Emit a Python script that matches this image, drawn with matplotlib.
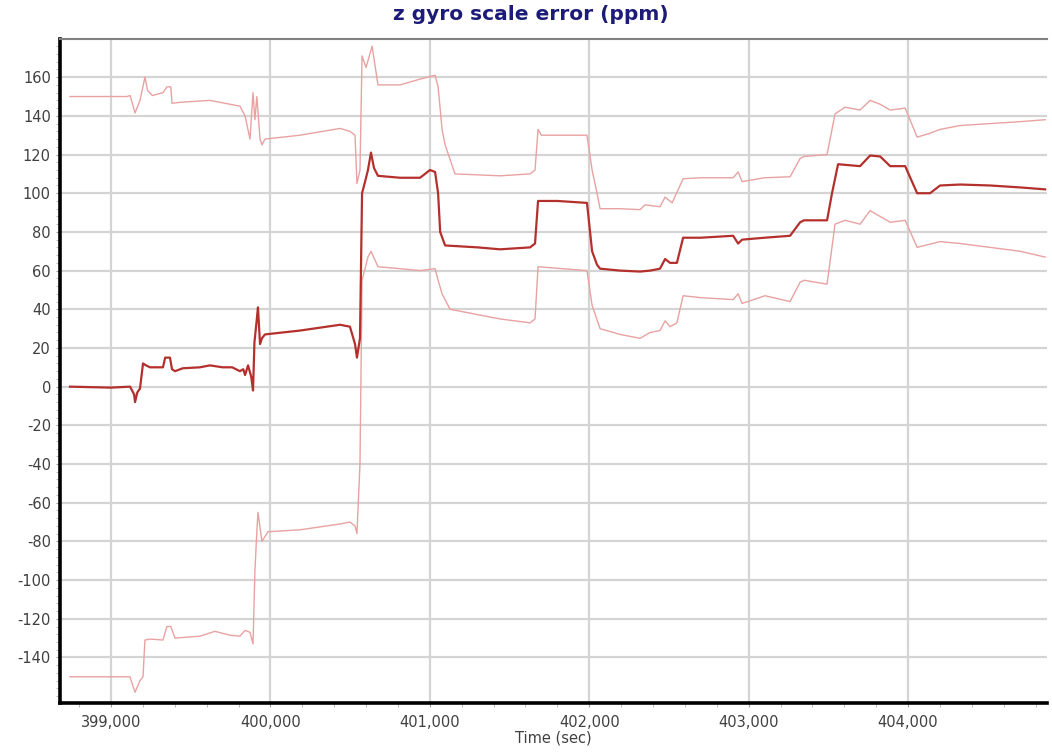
import matplotlib
matplotlib.use("Agg")
import matplotlib.pyplot as plt
from matplotlib.ticker import MultipleLocator, FuncFormatter

# z gyro scale error estimate (ppm) with upper / lower bounds
center_t = [398743, 399000, 399120, 399145, 399151, 399165, 399182, 399201, 399220, 399245,
            399326, 399340, 399370, 399383, 399402, 399450, 399558, 399621, 399700, 399760,
            399809, 399830, 399841, 399860, 399880, 399891, 399900, 399915, 399922, 399935,
            399947, 399966, 400186, 400437, 400499, 400531, 400543, 400562, 400575, 400594,
            400612, 400631, 400650, 400675, 400813, 400939, 401001, 401033, 401052, 401065,
            401096, 401300, 401441, 401629, 401660, 401679, 401800, 401986, 402018, 402049,
            402068, 402193, 402319, 402382, 402444, 402476, 402507, 402550, 402589, 402700,
            402903, 402934, 402959, 403100, 403260, 403323, 403348, 403492, 403523, 403561,
            403699, 403762, 403825, 403888, 403982, 404057, 404138, 404201, 404327, 404515,
            404703, 404860]
center_v = [0, -0.5, 0, -4, -8, -3, -1, 12, 11, 10,
            10, 15, 15, 9, 8, 9.5, 10, 11, 10, 10,
            8, 9, 6, 11, 5, -2, 23, 35, 41, 22,
            25, 27, 29, 32, 31, 22, 15, 25, 100, 106,
            112, 121, 113, 109, 108, 108, 112, 111, 100, 80,
            73, 72, 71, 72, 74, 96, 96, 95, 70, 63,
            61, 60, 59.5, 60, 61, 66, 64, 64, 77, 77,
            78, 74, 76, 77, 78, 85, 86, 86, 100, 115,
            114, 119.5, 119, 114, 114, 100, 100, 104, 104.5, 104,
            103, 102]

upper_t = [398743, 399100, 399120, 399151, 399182, 399213, 399230, 399260, 399326, 399351,
           399375, 399383, 399433, 399621, 399747, 399809, 399841, 399872, 399891, 399903,
           399915, 399935, 399947, 399966, 400186, 400437, 400499, 400531, 400543, 400562,
           400575, 400600, 400638, 400675, 400813, 400939, 401033, 401052, 401077, 401096,
           401158, 401441, 401629, 401660, 401679, 401700, 401986, 402018, 402049, 402068,
           402193, 402319, 402350, 402444, 402476, 402520, 402589, 402700, 402903, 402934,
           402959, 403100, 403260, 403323, 403348, 403492, 403542, 403605, 403699, 403762,
           403825, 403888, 403982, 404057, 404138, 404201, 404327, 404515, 404703, 404860]
upper_v = [150, 150, 150.5, 141.5, 148, 160, 153, 150.5, 152, 155,
           155, 146.5, 147, 148, 146, 145, 140, 128, 152, 138,
           150, 128, 125, 128, 130, 133.5, 132, 130, 105, 112,
           171, 165, 176, 156, 156, 159, 161, 155, 133, 125,
           110, 109, 110, 112, 133, 130, 130, 112, 100, 92,
           92, 91.5, 94, 93, 98, 95, 107.5, 108, 108, 111,
           106, 108, 108.5, 118, 119, 120, 141, 144.5, 143, 148,
           146, 143, 144, 129, 131, 133, 135, 136, 137, 138]

lower_t = [398743, 399119, 399151, 399182, 399201, 399213, 399245, 399326, 399351, 399375,
           399402, 399558, 399652, 399747, 399809, 399841, 399872, 399891, 399903, 399915,
           399922, 399947, 399985, 400186, 400437, 400499, 400531, 400543, 400562, 400575,
           400612, 400631, 400675, 400813, 400939, 401033, 401052, 401077, 401127, 401441,
           401629, 401660, 401679, 401986, 402018, 402068, 402193, 402319, 402382, 402444,
           402476, 402507, 402550, 402589, 402700, 402903, 402934, 402959, 403103, 403260,
           403323, 403348, 403492, 403542, 403605, 403699, 403762, 403825, 403888, 403982,
           404057, 404201, 404327, 404515, 404703, 404860]
lower_v = [-150, -150, -158, -152, -150, -131, -130.5, -131, -124, -124,
           -130, -129, -126.5, -128.5, -129, -126, -127, -133, -95, -75,
           -65, -80, -75, -74, -71, -70, -72, -76, -40, 55,
           67, 70, 62, 61, 60, 61, 55, 48, 40, 35,
           33, 35, 62, 60, 42, 30, 27, 25, 28, 29,
           34, 31, 33, 47, 46, 45, 48, 43, 47, 44,
           54, 55, 53, 84, 86, 84, 91, 88, 85, 86,
           72, 75, 74, 72, 70, 67]


def main():
    plt.rcParams['axes.unicode_minus'] = False
    fig = plt.figure(figsize=(10.52, 7.55), dpi=100)
    ax = fig.add_axes([0.057, 0.069, 0.938, 0.879])

    bound_color = '#e8a2a2'
    ax.plot(upper_t, upper_v, color=bound_color, lw=1.0, zorder=3)
    ax.plot(lower_t, lower_v, color=bound_color, lw=1.0, zorder=3)
    ax.plot(center_t, center_v, color='#b3302c', lw=1.6, zorder=4)

    ax.set_xlim(398680, 404870)
    ax.set_ylim(-163.5, 179.6)

    ax.xaxis.set_major_locator(MultipleLocator(1000))
    ax.xaxis.set_minor_locator(MultipleLocator(200))
    ax.yaxis.set_minor_locator(MultipleLocator(4))
    ax.set_yticks(range(-140, 161, 20))
    ax.xaxis.set_major_formatter(FuncFormatter(lambda v, p: f'{int(v):,}'))

    ax.grid(True, which='major', color='#d4d4d4', lw=1.6, zorder=0)
    ax.set_axisbelow(True)

    ax.tick_params(axis='both', which='major', direction='out', length=3,
                   color='#a0a0a0', labelsize=10.5, labelcolor='#404040')
    ax.tick_params(axis='x', which='major', pad=6)
    ax.tick_params(axis='both', which='minor', direction='out', length=3,
                   color='#b0b0b0')

    for side in ['left', 'bottom']:
        ax.spines[side].set_color('black')
        ax.spines[side].set_linewidth(2.6)
    ax.spines['top'].set_color('#808080')
    ax.spines['top'].set_linewidth(1.5)
    ax.spines['right'].set_visible(False)

    ax.set_xlabel('Time (sec)', fontsize=10.5, color='#404040', labelpad=0)
    fig.suptitle('z gyro scale error (ppm)', x=0.505, y=0.993, fontsize=14.5,
                 fontweight='bold', color='#1c1c78')

    fig.savefig('out.png', dpi=100)


if __name__ == '__main__':
    main()
